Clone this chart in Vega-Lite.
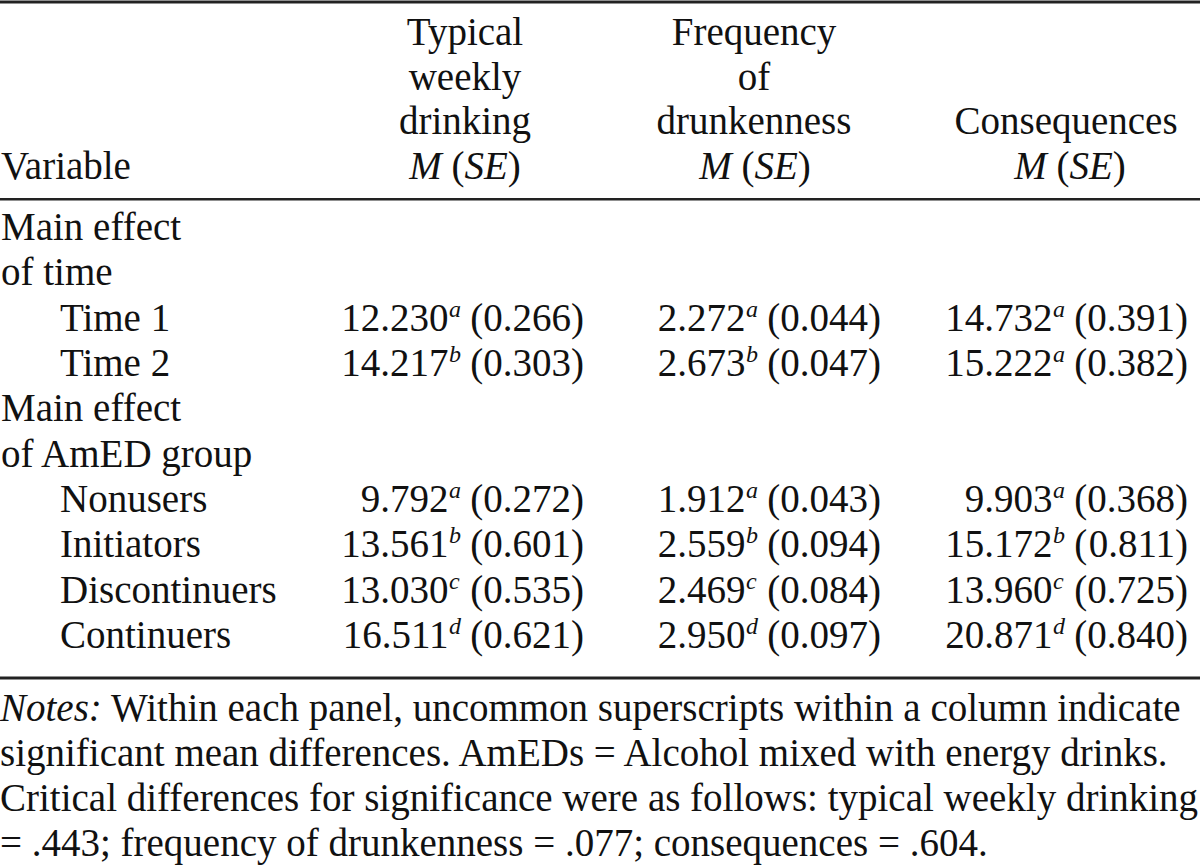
{
  "$schema": "https://vega.github.io/schema/vega-lite/v6.json",
  "width": 1200,
  "height": 868,
  "padding": 0,
  "autosize": {"type": "none"},
  "background": "white",
  "config": {
    "view": {"stroke": null},
    "text": {"font": "Liberation Serif", "fontSize": 39, "color": "#111111", "baseline": "alphabetic"}
  },
  "datasets": {
    "one": [{}],
    "labels": [
      {"line": 3, "indent": 0, "text": "Variable"},
      {"line": 4, "indent": 0, "text": "Main effect"},
      {"line": 5, "indent": 0, "text": "of time"},
      {"line": 6, "indent": 1, "text": "Time 1"},
      {"line": 7, "indent": 1, "text": "Time 2"},
      {"line": 8, "indent": 0, "text": "Main effect"},
      {"line": 9, "indent": 0, "text": "of AmED group"},
      {"line": 10, "indent": 1, "text": "Nonusers"},
      {"line": 11, "indent": 1, "text": "Initiators"},
      {"line": 12, "indent": 1, "text": "Discontinuers"},
      {"line": 13, "indent": 1, "text": "Continuers"}
    ],
    "headers": [
      {"col": 1, "line": 0, "text": "Typical"},
      {"col": 1, "line": 1, "text": "weekly"},
      {"col": 1, "line": 2, "text": "drinking"},
      {"col": 2, "line": 0, "text": "Frequency"},
      {"col": 2, "line": 1, "text": "of"},
      {"col": 2, "line": 2, "text": "drunkenness"},
      {"col": 3, "line": 2, "text": "Consequences"}
    ],
    "stat": [
      {"col": 1, "line": 3},
      {"col": 2, "line": 3},
      {"col": 3, "line": 3}
    ],
    "cells": [
      {"line": 6, "col": 1, "m": 12.230, "sup": "a", "se": 0.266},
      {"line": 6, "col": 2, "m": 2.272, "sup": "a", "se": 0.044},
      {"line": 6, "col": 3, "m": 14.732, "sup": "a", "se": 0.391},
      {"line": 7, "col": 1, "m": 14.217, "sup": "b", "se": 0.303},
      {"line": 7, "col": 2, "m": 2.673, "sup": "b", "se": 0.047},
      {"line": 7, "col": 3, "m": 15.222, "sup": "a", "se": 0.382},
      {"line": 10, "col": 1, "m": 9.792, "sup": "a", "se": 0.272},
      {"line": 10, "col": 2, "m": 1.912, "sup": "a", "se": 0.043},
      {"line": 10, "col": 3, "m": 9.903, "sup": "a", "se": 0.368},
      {"line": 11, "col": 1, "m": 13.561, "sup": "b", "se": 0.601},
      {"line": 11, "col": 2, "m": 2.559, "sup": "b", "se": 0.094},
      {"line": 11, "col": 3, "m": 15.172, "sup": "b", "se": 0.811},
      {"line": 12, "col": 1, "m": 13.030, "sup": "c", "se": 0.535},
      {"line": 12, "col": 2, "m": 2.469, "sup": "c", "se": 0.084},
      {"line": 12, "col": 3, "m": 13.960, "sup": "c", "se": 0.725},
      {"line": 13, "col": 1, "m": 16.511, "sup": "d", "se": 0.621},
      {"line": 13, "col": 2, "m": 2.950, "sup": "d", "se": 0.097},
      {"line": 13, "col": 3, "m": 20.871, "sup": "d", "se": 0.840}
    ],
    "notesLead": [
      {"line": 14, "indent": 0, "text": "Notes:"}
    ],
    "notesFirst": [
      {"line": 14, "indent": 0, "text": "Within each panel, uncommon superscripts within a column indicate"}
    ],
    "notes": [
      {"line": 15, "indent": 0, "text": "significant mean differences. AmEDs = Alcohol mixed with energy drinks."},
      {"line": 16, "indent": 0, "text": "Critical differences for significance were as follows: typical weekly drinking"},
      {"line": 17, "indent": 0, "text": "= .443; frequency of drunkenness = .077; consequences = .604."}
    ]
  },
  "resolve": {"scale": {"x": "independent"}},
  "layer": [
    {
      "data": {"name": "one"},
      "mark": {"type": "rule", "strokeWidth": 3, "color": "#222222"},
      "encoding": {"y": {"datum": -0.915, "type": "quantitative", "scale": {"domain": [-1, 0, 3, 4, 13, 14, 17], "range": [-2, 45, 179, 240, 648, 721, 856], "nice": false, "zero": false}, "axis": null}}
    },
    {
      "data": {"name": "one"},
      "mark": {"type": "rule", "strokeWidth": 2.5, "color": "#222222"},
      "encoding": {"y": {"datum": 3.33, "type": "quantitative", "scale": {"domain": [-1, 0, 3, 4, 13, 14, 17], "range": [-2, 45, 179, 240, 648, 721, 856], "nice": false, "zero": false}, "axis": null}}
    },
    {
      "data": {"name": "one"},
      "mark": {"type": "rule", "strokeWidth": 3, "color": "#222222"},
      "encoding": {"y": {"datum": 13.41, "type": "quantitative", "scale": {"domain": [-1, 0, 3, 4, 13, 14, 17], "range": [-2, 45, 179, 240, 648, 721, 856], "nice": false, "zero": false}, "axis": null}}
    },
    {
      "data": {"name": "labels"},
      "mark": {"type": "text", "align": "left"},
      "encoding": {
        "x": {"field": "indent", "type": "quantitative", "scale": {"domain": [0, 1], "range": [1, 60], "nice": false, "zero": false}, "axis": null},
        "y": {"field": "line", "type": "quantitative", "scale": {"domain": [-1, 0, 3, 4, 13, 14, 17], "range": [-2, 45, 179, 240, 648, 721, 856], "nice": false, "zero": false}, "axis": null},
        "text": {"field": "text"}
      }
    },
    {
      "data": {"name": "headers"},
      "mark": {"type": "text", "align": "center"},
      "encoding": {
        "x": {"field": "col", "type": "quantitative", "scale": {"domain": [1, 2, 3], "range": [465, 754, 1066], "nice": false, "zero": false}, "axis": null},
        "y": {"field": "line", "type": "quantitative", "scale": {"domain": [-1, 0, 3, 4, 13, 14, 17], "range": [-2, 45, 179, 240, 648, 721, 856], "nice": false, "zero": false}, "axis": null},
        "text": {"field": "text"}
      }
    },
    {
      "data": {"name": "stat"},
      "mark": {"type": "text", "align": "left", "text": "M", "fontStyle": "italic", "dx": -55.8},
      "encoding": {
        "x": {"field": "col", "type": "quantitative", "scale": {"domain": [1, 2, 3], "range": [465, 755, 1070], "nice": false, "zero": false}, "axis": null},
        "y": {"field": "line", "type": "quantitative", "scale": {"domain": [-1, 0, 3, 4, 13, 14, 17], "range": [-2, 45, 179, 240, 648, 721, 856], "nice": false, "zero": false}, "axis": null}
      }
    },
    {
      "data": {"name": "stat"},
      "mark": {"type": "text", "align": "left", "text": "(", "dx": -13.5},
      "encoding": {
        "x": {"field": "col", "type": "quantitative", "scale": {"domain": [1, 2, 3], "range": [465, 755, 1070], "nice": false, "zero": false}, "axis": null},
        "y": {"field": "line", "type": "quantitative", "scale": {"domain": [-1, 0, 3, 4, 13, 14, 17], "range": [-2, 45, 179, 240, 648, 721, 856], "nice": false, "zero": false}, "axis": null}
      }
    },
    {
      "data": {"name": "stat"},
      "mark": {"type": "text", "align": "left", "text": "SE", "fontStyle": "italic", "dx": -0.5},
      "encoding": {
        "x": {"field": "col", "type": "quantitative", "scale": {"domain": [1, 2, 3], "range": [465, 755, 1070], "nice": false, "zero": false}, "axis": null},
        "y": {"field": "line", "type": "quantitative", "scale": {"domain": [-1, 0, 3, 4, 13, 14, 17], "range": [-2, 45, 179, 240, 648, 721, 856], "nice": false, "zero": false}, "axis": null}
      }
    },
    {
      "data": {"name": "stat"},
      "mark": {"type": "text", "align": "left", "text": ")", "dx": 42.8},
      "encoding": {
        "x": {"field": "col", "type": "quantitative", "scale": {"domain": [1, 2, 3], "range": [465, 755, 1070], "nice": false, "zero": false}, "axis": null},
        "y": {"field": "line", "type": "quantitative", "scale": {"domain": [-1, 0, 3, 4, 13, 14, 17], "range": [-2, 45, 179, 240, 648, 721, 856], "nice": false, "zero": false}, "axis": null}
      }
    },
    {
      "data": {"name": "cells"},
      "mark": {"type": "text", "align": "right", "text": ")", "dx": 0},
      "encoding": {
        "x": {"field": "col", "type": "quantitative", "scale": {"domain": [1, 2, 3], "range": [584, 881, 1188], "nice": false, "zero": false}, "axis": null},
        "y": {"field": "line", "type": "quantitative", "scale": {"domain": [-1, 0, 3, 4, 13, 14, 17], "range": [-2, 45, 179, 240, 648, 721, 856], "nice": false, "zero": false}, "axis": null}
      }
    },
    {
      "data": {"name": "cells"},
      "mark": {"type": "text", "align": "right", "dx": -13},
      "encoding": {
        "x": {"field": "col", "type": "quantitative", "scale": {"domain": [1, 2, 3], "range": [584, 881, 1188], "nice": false, "zero": false}, "axis": null},
        "y": {"field": "line", "type": "quantitative", "scale": {"domain": [-1, 0, 3, 4, 13, 14, 17], "range": [-2, 45, 179, 240, 648, 721, 856], "nice": false, "zero": false}, "axis": null},
        "text": {"field": "se", "type": "quantitative", "format": ".3f"}
      }
    },
    {
      "data": {"name": "cells"},
      "mark": {"type": "text", "align": "right", "text": "(", "dx": -100.7},
      "encoding": {
        "x": {"field": "col", "type": "quantitative", "scale": {"domain": [1, 2, 3], "range": [584, 881, 1188], "nice": false, "zero": false}, "axis": null},
        "y": {"field": "line", "type": "quantitative", "scale": {"domain": [-1, 0, 3, 4, 13, 14, 17], "range": [-2, 45, 179, 240, 648, 721, 856], "nice": false, "zero": false}, "axis": null}
      }
    },
    {
      "data": {"name": "cells"},
      "mark": {"type": "text", "align": "left", "fontStyle": "italic", "fontSize": 24, "dx": -135, "dy": -14},
      "encoding": {
        "x": {"field": "col", "type": "quantitative", "scale": {"domain": [1, 2, 3], "range": [584, 881, 1188], "nice": false, "zero": false}, "axis": null},
        "y": {"field": "line", "type": "quantitative", "scale": {"domain": [-1, 0, 3, 4, 13, 14, 17], "range": [-2, 45, 179, 240, 648, 721, 856], "nice": false, "zero": false}, "axis": null},
        "text": {"field": "sup"}
      }
    },
    {
      "data": {"name": "cells"},
      "mark": {"type": "text", "align": "right", "dx": -135.5},
      "encoding": {
        "x": {"field": "col", "type": "quantitative", "scale": {"domain": [1, 2, 3], "range": [584, 881, 1188], "nice": false, "zero": false}, "axis": null},
        "y": {"field": "line", "type": "quantitative", "scale": {"domain": [-1, 0, 3, 4, 13, 14, 17], "range": [-2, 45, 179, 240, 648, 721, 856], "nice": false, "zero": false}, "axis": null},
        "text": {"field": "m", "type": "quantitative", "format": ".3f"}
      }
    },
    {
      "data": {"name": "notesLead"},
      "mark": {"type": "text", "align": "left", "fontStyle": "italic"},
      "encoding": {
        "x": {"field": "indent", "type": "quantitative", "scale": {"domain": [0, 1], "range": [0, 60], "nice": false, "zero": false}, "axis": null},
        "y": {"field": "line", "type": "quantitative", "scale": {"domain": [-1, 0, 3, 4, 13, 14, 17], "range": [-2, 45, 179, 240, 648, 721, 856], "nice": false, "zero": false}, "axis": null},
        "text": {"field": "text"}
      }
    },
    {
      "data": {"name": "notesFirst"},
      "mark": {"type": "text", "align": "left", "dx": 111},
      "encoding": {
        "x": {"field": "indent", "type": "quantitative", "scale": {"domain": [0, 1], "range": [0, 60], "nice": false, "zero": false}, "axis": null},
        "y": {"field": "line", "type": "quantitative", "scale": {"domain": [-1, 0, 3, 4, 13, 14, 17], "range": [-2, 45, 179, 240, 648, 721, 856], "nice": false, "zero": false}, "axis": null},
        "text": {"field": "text"}
      }
    },
    {
      "data": {"name": "notes"},
      "mark": {"type": "text", "align": "left"},
      "encoding": {
        "x": {"field": "indent", "type": "quantitative", "scale": {"domain": [0, 1], "range": [0, 60], "nice": false, "zero": false}, "axis": null},
        "y": {"field": "line", "type": "quantitative", "scale": {"domain": [-1, 0, 3, 4, 13, 14, 17], "range": [-2, 45, 179, 240, 648, 721, 856], "nice": false, "zero": false}, "axis": null},
        "text": {"field": "text"}
      }
    }
  ]
}
